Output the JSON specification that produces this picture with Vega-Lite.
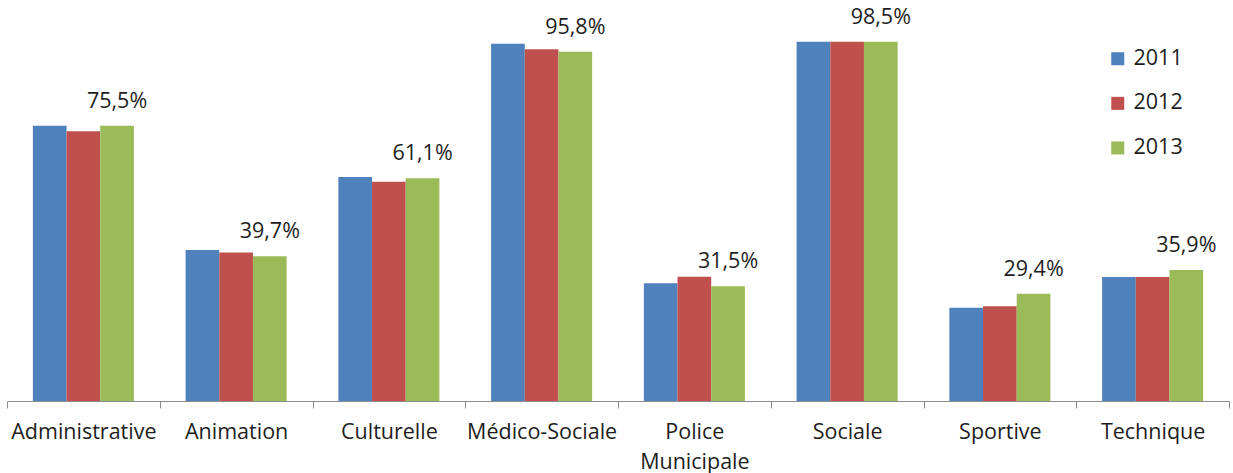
{
  "$schema": "https://vega.github.io/schema/vega-lite/v6.json",
  "width": 1222,
  "height": 400,
  "autosize": {"type": "none"},
  "padding": {"left": 7, "top": 1, "right": 4, "bottom": 72},
  "config": {
    "locale": {
      "number": {"decimal": ",", "thousands": "\u00a0", "grouping": [3], "currency": ["", "\u00a0€"]}
    },
    "view": {"stroke": null},
    "font": "Open Sans",
    "text": {"font": "Open Sans"}
  },
  "data": {
    "values": [
      {"filiere": "Administrative", "annee": "2011", "taux": 0.755},
      {"filiere": "Administrative", "annee": "2012", "taux": 0.740},
      {"filiere": "Administrative", "annee": "2013", "taux": 0.755},
      {"filiere": "Animation", "annee": "2011", "taux": 0.414},
      {"filiere": "Animation", "annee": "2012", "taux": 0.407},
      {"filiere": "Animation", "annee": "2013", "taux": 0.397},
      {"filiere": "Culturelle", "annee": "2011", "taux": 0.614},
      {"filiere": "Culturelle", "annee": "2012", "taux": 0.601},
      {"filiere": "Culturelle", "annee": "2013", "taux": 0.611},
      {"filiere": "Médico-Sociale", "annee": "2011", "taux": 0.980},
      {"filiere": "Médico-Sociale", "annee": "2012", "taux": 0.965},
      {"filiere": "Médico-Sociale", "annee": "2013", "taux": 0.958},
      {"filiere": "Police Municipale", "annee": "2011", "taux": 0.323},
      {"filiere": "Police Municipale", "annee": "2012", "taux": 0.341},
      {"filiere": "Police Municipale", "annee": "2013", "taux": 0.315},
      {"filiere": "Sociale", "annee": "2011", "taux": 0.985},
      {"filiere": "Sociale", "annee": "2012", "taux": 0.985},
      {"filiere": "Sociale", "annee": "2013", "taux": 0.985},
      {"filiere": "Sportive", "annee": "2011", "taux": 0.256},
      {"filiere": "Sportive", "annee": "2012", "taux": 0.260},
      {"filiere": "Sportive", "annee": "2013", "taux": 0.294},
      {"filiere": "Technique", "annee": "2011", "taux": 0.340},
      {"filiere": "Technique", "annee": "2012", "taux": 0.340},
      {"filiere": "Technique", "annee": "2013", "taux": 0.359}
    ]
  },
  "encoding": {
    "x": {
      "field": "filiere",
      "type": "nominal",
      "sort": null,
      "scale": {"paddingInner": 0, "paddingOuter": 0},
      "axis": {
        "title": null,
        "labelAngle": 0,
        "tickBand": "extent",
        "tickSize": 7,
        "tickColor": "#8c8c8c",
        "domainColor": "#8c8c8c",
        "labelFont": "Open Sans",
        "labelFontSize": 21.5,
        "labelColor": "#1e1e1e",
        "labelPadding": 13,
        "labelLineHeight": 30,
        "labelExpr": "datum.value == 'Police Municipale' ? ['Police', 'Municipale'] : datum.value"
      }
    },
    "xOffset": {
      "field": "annee",
      "type": "nominal",
      "scale": {"paddingInner": 0, "paddingOuter": 0.768}
    },
    "y": {
      "field": "taux",
      "type": "quantitative",
      "scale": {"domain": [0, 1.097]},
      "axis": null
    }
  },
  "layer": [
    {
      "mark": {"type": "bar"},
      "encoding": {
        "color": {
          "field": "annee",
          "type": "nominal",
          "scale": {"domain": ["2011", "2012", "2013"], "range": ["#4f81bd", "#c0504d", "#9bbb59"]},
          "legend": {
            "title": null,
            "orient": "none",
            "legendX": 1100,
            "legendY": 47,
            "padding": 0,
            "symbolType": "square",
            "symbolSize": 169,
            "symbolStrokeWidth": 0,
            "symbolOpacity": 1,
            "labelFont": "Open Sans",
            "labelFontSize": 21.5,
            "labelColor": "#1e1e1e",
            "labelOffset": 5,
            "rowPadding": 21.6
          }
        }
      }
    },
    {
      "transform": [{"filter": "datum.annee == '2013'"}],
      "mark": {"type": "text", "baseline": "alphabetic", "align": "center", "dy": -18, "fontSize": 21.5, "color": "#1e1e1e"},
      "encoding": {
        "text": {"field": "taux", "type": "quantitative", "format": ".1%"}
      }
    }
  ]
}
